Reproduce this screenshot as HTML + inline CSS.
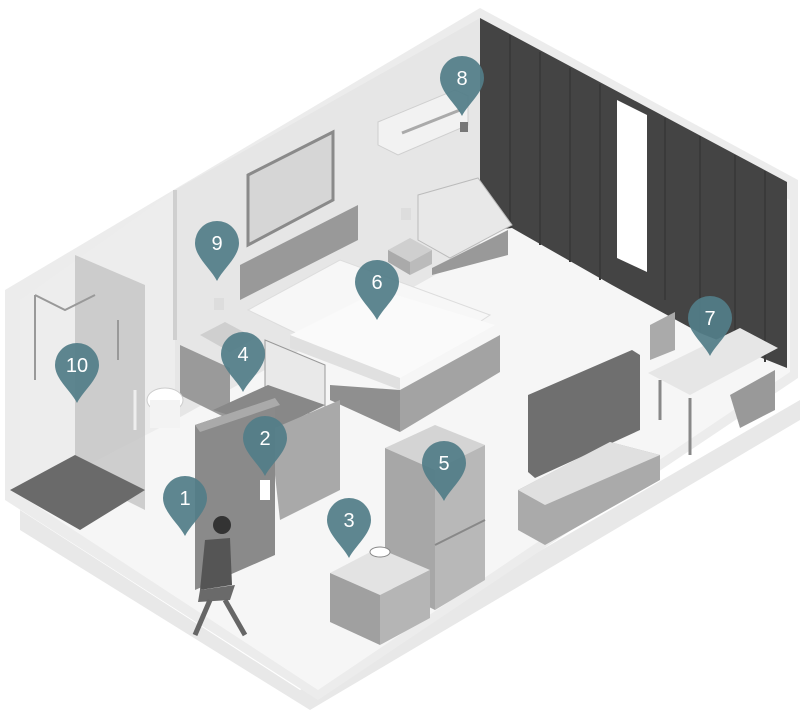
<!DOCTYPE html>
<html><head><meta charset="utf-8"><style>
html,body{margin:0;padding:0;background:#fff;width:800px;height:710px;overflow:hidden}
svg{display:block}
text{font-family:"Liberation Sans",sans-serif;fill:#fff;font-size:20px;text-anchor:middle}
</style></head><body>
<svg width="800" height="710" viewBox="0 0 800 710" xmlns="http://www.w3.org/2000/svg">
<defs>
<g id="pin"><path d="M0,38 C-6,26 -22,14 -22,0 A22,22 0 0 1 22,0 C22,14 6,26 0,38 Z" fill="#527d88" fill-opacity="0.93"/></g>
</defs>
<polygon points="20,510 300,690 800,400 800,420 310,710 20,530" fill="#e8e8e8"/>
<polygon points="5,290 480,8 798,180 798,378 318,700 5,500" fill="#ececec"/>
<polygon points="20,300 480,28 790,200 790,372 318,690 20,495" fill="#f6f6f6"/>
<polygon points="175,190 480,18 480,250 175,420" fill="#e6e6e6"/>
<polygon points="20,300 175,190 175,420 20,500" fill="#ededed"/>
<line x1="175" y1="190" x2="175" y2="340" stroke="#cfcfcf" stroke-width="4"/>
<polygon points="480,18 787,182 787,368 700,333 612,285 512,228 480,232" fill="#444"/>
<g stroke="#3a3a3a" stroke-width="2">
<line x1="510" y1="35" x2="510" y2="228"/><line x1="540" y1="52" x2="540" y2="245"/><line x1="570" y1="68" x2="570" y2="262"/><line x1="600" y1="84" x2="600" y2="280"/><line x1="665" y1="118" x2="665" y2="300"/><line x1="700" y1="136" x2="700" y2="332"/><line x1="735" y1="155" x2="735" y2="350"/><line x1="765" y1="171" x2="765" y2="362"/></g>
<polygon points="617,100 647,115 647,272 617,258" fill="#fff"/>
<polygon points="378,122 455,90 468,96 468,125 398,155 378,145" fill="#f2f2f2" stroke="#cfcfcf"/>
<line x1="402" y1="133" x2="460" y2="110" stroke="#aaa" stroke-width="3"/>
<rect x="460" y="122" width="8" height="10" fill="#777"/>
<polygon points="248,175 333,132 333,200 248,245" fill="#d6d6d6" stroke="#8a8a8a" stroke-width="3"/>
<polygon points="240,265 358,205 358,240 240,300" fill="#999"/>
<polygon points="248,310 340,260 490,315 400,375 310,340" fill="#f7f7f7" stroke="#ddd"/>
<polygon points="290,335 380,290 495,325 400,378" fill="#fafafa"/>
<polygon points="290,335 400,378 400,390 290,348" fill="#e0e0e0"/>
<polygon points="330,385 400,390 400,432 330,400" fill="#8f8f8f"/>
<polygon points="400,390 500,335 500,372 400,432" fill="#a3a3a3"/>
<polygon points="265,340 325,365 325,420 265,395" fill="#e9e9e9" stroke="#999"/>
<polygon points="200,335 225,322 255,338 230,352" fill="#cfcfcf"/>
<polygon points="388,250 410,238 432,250 410,262" fill="#cfcfcf"/><polygon points="388,250 410,262 410,275 388,262" fill="#aaa"/><polygon points="410,262 432,250 432,264 410,275" fill="#bbb"/>
<rect x="214" y="298" width="10" height="12" fill="#ddd"/><rect x="401" y="208" width="10" height="12" fill="#ddd"/>
<polygon points="418,195 478,178 512,225 450,258 418,240" fill="#e8e8e8" stroke="#bbb"/>
<polygon points="432,268 508,230 508,255 432,275" fill="#999"/>
<polygon points="180,345 230,368 230,420 180,395" fill="#9a9a9a"/>
<polygon points="75,255 145,285 145,510 75,475" fill="#bdbdbd" fill-opacity="0.7"/>
<polygon points="10,490 75,455 145,490 80,530" fill="#6a6a6a"/>
<g stroke="#999" stroke-width="2" fill="none"><polyline points="35,295 65,310 95,295"/><line x1="35" y1="295" x2="35" y2="380"/><line x1="118" y1="320" x2="118" y2="360"/><line x1="135" y1="390" x2="135" y2="430" stroke="#eee" stroke-width="3"/></g>
<ellipse cx="165" cy="400" rx="18" ry="12" fill="#fff" stroke="#ccc"/><rect x="150" y="400" width="30" height="28" fill="#f3f3f3"/>
<polygon points="213,410 268,385 325,405 275,430" fill="#888"/>
<polygon points="270,430 340,400 340,490 280,520" fill="#a9a9a9"/>
<polygon points="195,425 275,398 275,555 195,590" fill="#8a8a8a"/>
<polygon points="195,425 275,398 280,405 200,432" fill="#aaa"/>
<rect x="260" y="480" width="10" height="20" fill="#fff"/>
<circle cx="222" cy="525" r="9" fill="#333"/>
<polygon points="205,540 230,538 232,585 200,590" fill="#555"/>
<polygon points="200,590 235,585 230,600 198,602" fill="#6a6a6a"/>
<line x1="210" y1="600" x2="195" y2="635" stroke="#666" stroke-width="5"/><line x1="225" y1="600" x2="245" y2="635" stroke="#666" stroke-width="5"/>
<polygon points="385,448 435,425 485,445 435,470" fill="#d4d4d4"/>
<polygon points="385,448 435,470 435,610 385,585" fill="#a7a7a7"/>
<polygon points="435,470 485,445 485,580 435,610" fill="#b8b8b8"/>
<line x1="435" y1="545" x2="485" y2="520" stroke="#888" stroke-width="2"/>
<polygon points="330,573 378,548 430,570 380,595" fill="#e3e3e3"/>
<polygon points="330,573 380,595 380,645 330,622" fill="#a0a0a0"/>
<polygon points="380,595 430,570 430,618 380,645" fill="#b5b5b5"/>
<ellipse cx="380" cy="552" rx="10" ry="5" fill="#fff" stroke="#888"/>
<polygon points="528,395 632,350 640,355 640,430 535,478 528,472" fill="#6f6f6f"/>
<polygon points="518,490 610,442 660,455 660,480 545,545 518,530" fill="#aaa"/>
<polygon points="518,490 545,505 660,455 610,442" fill="#e0e0e0"/>
<polygon points="648,373 740,328 778,348 690,395" fill="#e6e6e6"/>
<polygon points="730,395 775,370 775,410 740,428" fill="#999"/>
<line x1="660" y1="380" x2="660" y2="420" stroke="#888" stroke-width="3"/><line x1="690" y1="398" x2="690" y2="455" stroke="#888" stroke-width="3"/>
<polygon points="650,325 675,312 675,350 650,360" fill="#aaa"/>
<g transform="translate(185,498)"><use href="#pin"/><text y="7">1</text></g>
<g transform="translate(265,438)"><use href="#pin"/><text y="7">2</text></g>
<g transform="translate(349,520)"><use href="#pin"/><text y="7">3</text></g>
<g transform="translate(243,354)"><use href="#pin"/><text y="7">4</text></g>
<g transform="translate(444,463)"><use href="#pin"/><text y="7">5</text></g>
<g transform="translate(377,282)"><use href="#pin"/><text y="7">6</text></g>
<g transform="translate(710,318)"><use href="#pin"/><text y="7">7</text></g>
<g transform="translate(462,78)"><use href="#pin"/><text y="7">8</text></g>
<g transform="translate(217,243)"><use href="#pin"/><text y="7">9</text></g>
<g transform="translate(77,365)"><use href="#pin"/><text y="7">10</text></g>
</svg>
</body></html>
